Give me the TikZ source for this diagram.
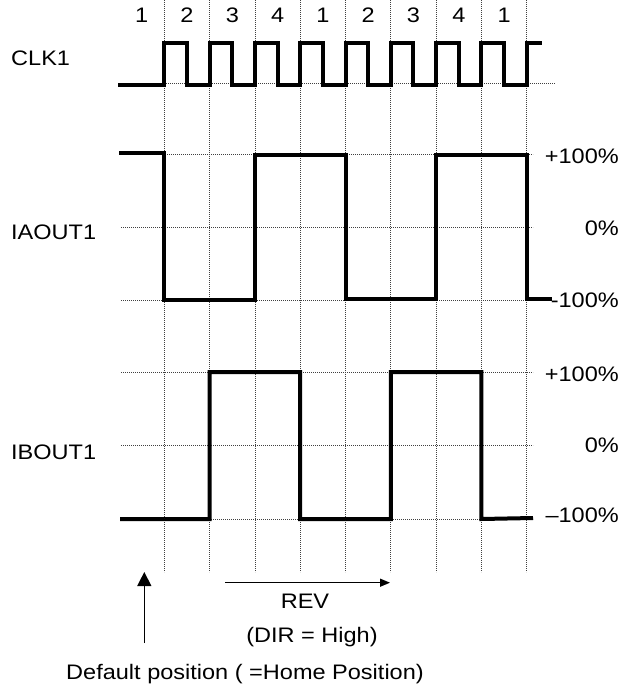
\documentclass[tikz,border=0pt]{standalone}
\usepackage{fontspec}
\setmainfont[FakeStretch=1.12]{Liberation Sans}
\usetikzlibrary{arrows.meta}
\begin{document}
\begin{tikzpicture}[x=1pt,y=-1pt,
  wave/.style={line width=4pt, line join=miter, line cap=butt},
  gridline/.style={line width=0.8pt, dash pattern=on 0.9pt off 1.1pt, black!75},
  lbl/.style={font=\fontsize{21}{24}\selectfont, inner sep=0pt},
  arr/.style={line width=1.3pt},
  ]
\useasboundingbox (0,0) rectangle (632,684);
% vertical grid lines
\foreach \k in {0,...,8}
  \draw[gridline] ({164.3+45.3*\k},0) -- ({164.3+45.3*\k},572);
% horizontal grid lines
\draw[gridline] (164.3,83.3) -- (555,83.3);
\foreach \yy in {154.3,227.3,300,372.7,445,519}
  \draw[gridline] (121,\yy) -- (533,\yy);
% phase numbers
\foreach \n [count=\i from 0] in {1,2,3,4,1,2,3,4,1}
  \node[lbl, anchor=base] (ph\i) at ({141.7+45.3*\i},22.7) {\n};
% left labels
\node[lbl, anchor=base west] (clk) at (11,66) {CLK1};
\node[lbl, anchor=base west] (ia) at (11,240) {IAOUT1};
\node[lbl, anchor=base west] (ib) at (11,459) {IBOUT1};
% right labels
\node[lbl, anchor=base east] (iap) at (619,164) {+100\%};
\node[lbl, anchor=base east] (ia0) at (619,236) {0\%};
\node[lbl, anchor=base east] (iam) at (619,307) {-100\%};
\node[lbl, anchor=base east] (ibp) at (619,381) {+100\%};
\node[lbl, anchor=base east] (ib0) at (619,452) {0\%};
\node[lbl, anchor=base east] (ibm) at (619,522) {\textendash100\%};
% CLK waveform
\draw[wave] (118,85)
  foreach \k in {0,...,7} { -| ({164.3+45.3*\k},43) -| ({186.95+45.3*\k},85) }
  -| (526.7,43) -- (542,43);
% IAOUT1 waveform
\draw[wave] (119,153) -| (164.3,300) -| (254.9,155) -| (345.5,299)
  -| (436.1,155) -| (526.7,299) -- (552,299);
% IBOUT1 waveform
\draw[wave] (120,519) -| (209.6,372) -| (300.2,519) -| (390.8,372)
  -| (481.4,519) -- (533,518);
% arrows and bottom labels
\coordinate (homeTail) at (144.3,643);
\coordinate (homeTip) at (144.3,572);
\draw[arr, -{Triangle[length=14pt,width=14pt]}] (homeTail) -- (homeTip);
\coordinate (revS) at (225,582.7);
\coordinate (revE) at (390,582.7);
\draw[arr, -{Triangle[length=10pt,width=8pt]}] (revS) -- (revE);
\node[lbl, anchor=base] (rev) at (305,608) {REV};
\node[lbl, anchor=base] (dir) at (312,642) {(DIR = High)};
\node[lbl, anchor=base] (home) at (245,679) {Default position ( =Home Position)};
\end{tikzpicture}
\end{document}
